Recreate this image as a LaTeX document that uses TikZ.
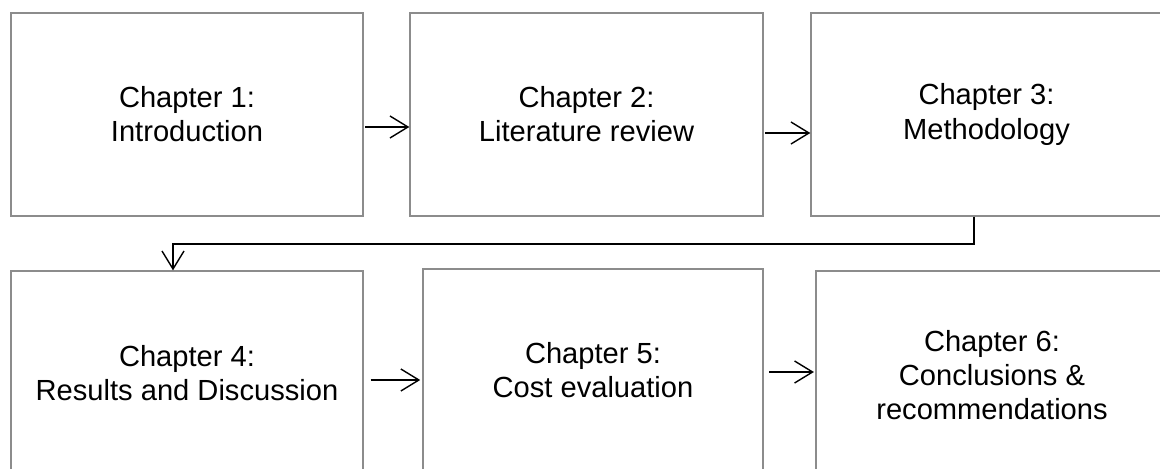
\documentclass[tikz,border=0pt]{standalone}
\usepackage{fontspec}
\setmainfont{Liberation Sans}
\usetikzlibrary{arrows.meta}

\begin{document}
\begin{tikzpicture}[x=0.025cm,y=-0.025cm,>={Straight Barb[length=4.5mm,width=5.5mm]},
  chapbox/.style={draw=black!45,line width=0.9pt,align=center,
    font=\fontsize{20.7}{24.3}\selectfont,inner sep=0pt},
  flow/.style={->,line width=1pt}]
  \clip (0,0) rectangle (1160,468);
  % top row
  \node[chapbox,minimum width=8.8cm,minimum height=5.075cm] (ch1) at (187,114.5) {Chapter 1:\\Introduction};
  \node[chapbox,minimum width=8.825cm,minimum height=5.075cm] (ch2) at (586.5,114.5) {Chapter 2:\\Literature review};
  \node[chapbox,minimum width=8.775cm,minimum height=5.075cm] (ch3) at (986.5,114.5) {Chapter 3:\\Methodology};
  % bottom row
  \node[chapbox,minimum width=8.8cm,minimum height=5.1cm] (ch4) at (187,373) {Chapter 4:\\Results and Discussion};
  \node[chapbox,minimum width=8.5cm,minimum height=5.05cm] (ch5) at (593,370) {Chapter 5:\\Cost evaluation};
  \node[chapbox,minimum width=8.8cm,minimum height=5.2cm] (ch6) at (992,375) {Chapter 6:\\Conclusions \&\\recommendations};
  \coordinate (turn) at (974,244);
  \draw[flow,shorten <=1pt] ([yshift=-12.5*0.025cm]ch1.east) -- ([yshift=-12.5*0.025cm]ch2.west);
  \draw[flow,shorten <=1pt] ([yshift=-18.5*0.025cm]ch2.east) -- ([yshift=-18.5*0.025cm]ch3.west);
  \draw[flow] (ch3.south -| turn) -- (turn) -- (turn -| 173,0) -- (ch4.north -| 173,0);
  \draw[flow,shorten <=5pt,shorten >=1.5pt] ([yshift=-7*0.025cm]ch4.east) -- ([yshift=-10*0.025cm]ch5.west);
  \draw[flow,shorten <=4pt,shorten >=1pt] ([yshift=-2*0.025cm]ch5.east) -- ([yshift=3*0.025cm]ch6.west);
\end{tikzpicture}
\end{document}
